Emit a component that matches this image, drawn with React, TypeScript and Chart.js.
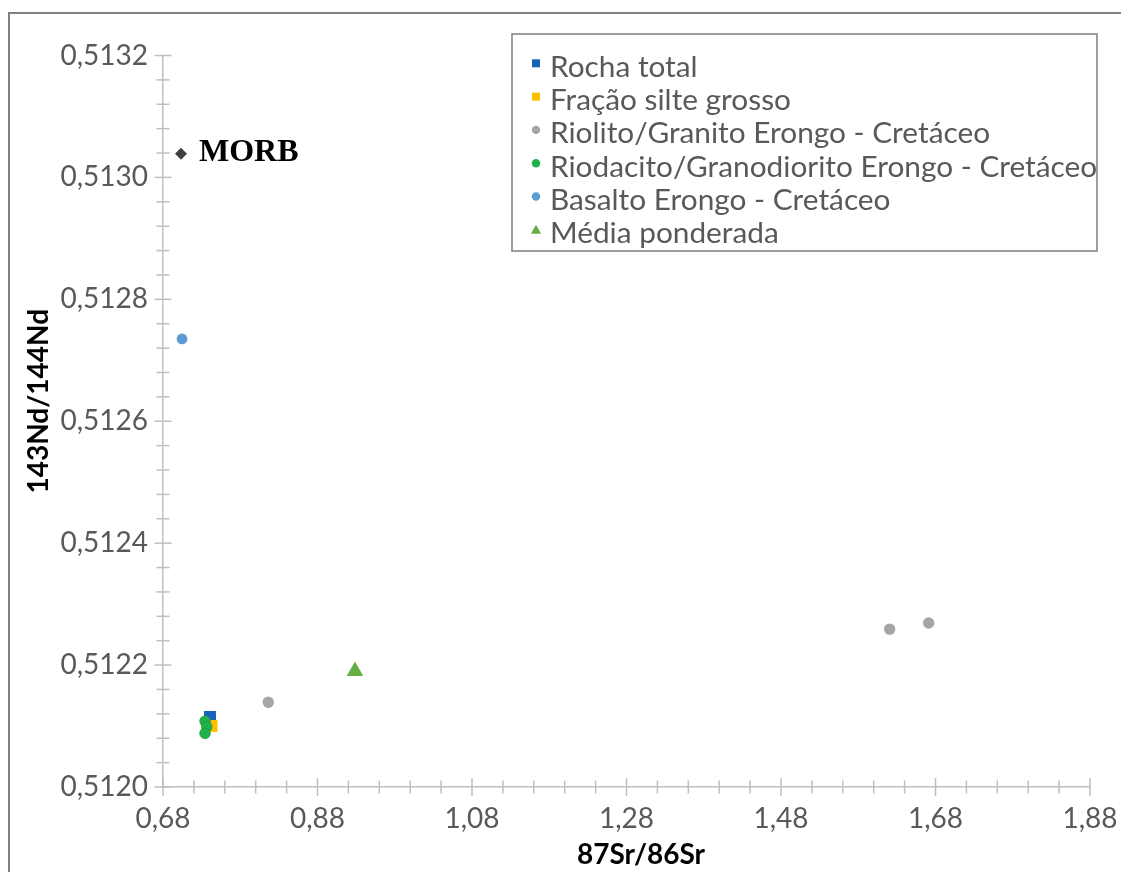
import React, { useEffect, useRef } from 'react';
import { Chart, registerables } from 'chart.js';

Chart.register(...registerables);

// ---- data ----
const X_TICKS = [0.68, 0.88, 1.08, 1.28, 1.48, 1.68, 1.88];
const Y_TICKS = [0.512, 0.5122, 0.5124, 0.5126, 0.5128, 0.513, 0.5132];

const X_TITLE = '87Sr/86Sr';
const Y_TITLE = '143Nd/144Nd';

const SERIES_LABELS = [
  'Rocha total',
  'Fração silte grosso',
  'Riolito/Granito Erongo - Cretáceo',
  'Riodacito/Granodiorito Erongo - Cretáceo',
  'Basalto Erongo - Cretáceo',
  'Média ponderada',
];

const rochaTotalX = [0.7408];
const rochaTotalY = [0.512115];
const fracaoSilteX = [0.7428];
const fracaoSilteY = [0.5121];
const riolitoX = [0.8163, 1.6207, 1.6712];
const riolitoY = [0.512139, 0.512259, 0.512269];
const riodacitoX = [0.7344, 0.7366, 0.7344];
const riodacitoY = [0.512108, 0.512099, 0.512088];
const basaltoX = [0.7046];
const basaltoY = [0.512735];
const mediaX = [0.9285];
const mediaY = [0.51219];
const morbX = [0.7033];
const morbY = [0.513039];
const MORB_LABEL = 'MORB';

// ---- styles ----
const TEXT_GRAY = '#595959';
const AXIS_GRAY = '#bfbfbf';
const FONT = 'Lato';

const pts = (xs: number[], ys: number[]) => xs.map((x, i) => ({ x, y: ys[i] }));

const decorPlugin = {
  id: 'decor',
  beforeDatasetsDraw(chart: any) {
    const ctx = chart.ctx;
    const xs = chart.scales.x;
    const ys = chart.scales.y;
    const ca = chart.chartArea;
    ctx.save();
    ctx.strokeStyle = AXIS_GRAY;
    ctx.lineWidth = 1.5;
    const line = (x1: number, y1: number, x2: number, y2: number) => {
      ctx.beginPath();
      ctx.moveTo(x1, y1);
      ctx.lineTo(x2, y2);
      ctx.stroke();
    };
    for (let i = 0; i < X_TICKS.length; i++) {
      const px = xs.getPixelForValue(X_TICKS[i]);
      line(px, ca.bottom - 9, px, ca.bottom + 9);
      if (i < X_TICKS.length - 1) {
        for (let k = 1; k < 5; k++) {
          const v = X_TICKS[i] + ((X_TICKS[i + 1] - X_TICKS[i]) * k) / 5;
          const p = xs.getPixelForValue(v);
          line(p, ca.bottom - 6.5, p, ca.bottom + 6.5);
        }
      }
    }
    for (let i = 0; i < Y_TICKS.length; i++) {
      const py = ys.getPixelForValue(Y_TICKS[i]);
      line(ca.left - 8.5, py, ca.left + 8.5, py);
      if (i < Y_TICKS.length - 1) {
        for (let k = 1; k < 5; k++) {
          const v = Y_TICKS[i] + ((Y_TICKS[i + 1] - Y_TICKS[i]) * k) / 5;
          const p = ys.getPixelForValue(v);
          line(ca.left - 6.5, p, ca.left + 6.5, p);
        }
      }
    }
    ctx.restore();
  },
  afterDatasetsDraw(chart: any) {
    const ctx = chart.ctx;
    const ca = chart.chartArea;
    ctx.save();
    // MORB label
    const morbIdx = chart.data.datasets.findIndex((d: any) => d.isMorb);
    const el = chart.getDatasetMeta(morbIdx).data[0];
    ctx.fillStyle = '#000000';
    ctx.font = 'bold 32px "Liberation Serif"';
    ctx.textAlign = 'left';
    ctx.textBaseline = 'alphabetic';
    ctx.fillText(MORB_LABEL, el.x + 18, el.y + 7.5);

    // axis titles
    ctx.font = `bold 28px ${FONT}`;
    ctx.textAlign = 'center';
    ctx.textBaseline = 'middle';
    ctx.fillText(X_TITLE, (ca.left + ca.right) / 2 + 14.5, 855);
    ctx.save();
    ctx.translate(39, (ca.top + ca.bottom) / 2 - 20);
    ctx.rotate(-Math.PI / 2);
    ctx.fillText(Y_TITLE, 0, 0);
    ctx.restore();

    // legend
    const lx = 512, ly = 34, lw = 585, lh = 217;
    ctx.fillStyle = '#ffffff';
    ctx.fillRect(lx, ly, lw, lh);
    ctx.strokeStyle = '#7f7f7f';
    ctx.lineWidth = 1.5;
    ctx.strokeRect(lx, ly, lw, lh);
    const legendSets = chart.data.datasets.filter((d: any) => !d.isMorb);
    legendSets.forEach((d: any, i: number) => {
      const cy = 63.3 + i * 33.3;
      const cx = 536;
      ctx.fillStyle = d.backgroundColor;
      if (d.pointStyle === 'rect') {
        ctx.fillRect(cx - 4, cy - 4, 8, 8);
      } else if (d.pointStyle === 'circle') {
        ctx.beginPath();
        ctx.arc(cx, cy, 4.2, 0, Math.PI * 2);
        ctx.fill();
      } else if (d.pointStyle === 'triangle') {
        ctx.beginPath();
        ctx.moveTo(cx, cy - 5);
        ctx.lineTo(cx + 5, cy + 4);
        ctx.lineTo(cx - 5, cy + 4);
        ctx.closePath();
        ctx.fill();
      }
      ctx.fillStyle = TEXT_GRAY;
      ctx.font = `29.8px ${FONT}`;
      ctx.textAlign = 'left';
      ctx.textBaseline = 'alphabetic';
      ctx.fillText(d.label, 550, cy + 13.5);
    });
    ctx.restore();
  },
};

export default function App() {
  const ref = useRef<HTMLCanvasElement | null>(null);

  useEffect(() => {
    if (!ref.current) return;
    const chart = new Chart(ref.current, {
      type: 'scatter',
      data: {
        datasets: [
          {
            label: SERIES_LABELS[0],
            data: pts(rochaTotalX, rochaTotalY),
            pointStyle: 'rect',
            pointRadius: 8.5,
            backgroundColor: '#1a62b8',
            borderWidth: 0,
            order: 6,
          },
          {
            label: SERIES_LABELS[1],
            data: pts(fracaoSilteX, fracaoSilteY),
            pointStyle: 'rect',
            pointRadius: 8.5,
            backgroundColor: '#ffc000',
            borderWidth: 0,
            order: 5,
          },
          {
            label: SERIES_LABELS[2],
            data: pts(riolitoX, riolitoY),
            pointStyle: 'circle',
            pointRadius: 5.7,
            backgroundColor: '#a5a5a5',
            borderWidth: 0,
            order: 4,
          },
          {
            label: SERIES_LABELS[3],
            data: pts(riodacitoX, riodacitoY),
            pointStyle: 'circle',
            pointRadius: 5.3,
            backgroundColor: '#22b14c',
            borderColor: '#1a9a3e',
            borderWidth: 0.8,
            order: 3,
          },
          {
            label: SERIES_LABELS[4],
            data: pts(basaltoX, basaltoY),
            pointStyle: 'circle',
            pointRadius: 5.4,
            backgroundColor: '#5b9bd5',
            borderWidth: 0,
            order: 2,
          },
          {
            label: SERIES_LABELS[5],
            data: pts(mediaX, mediaY),
            pointStyle: 'triangle',
            pointRadius: 9.6,
            backgroundColor: '#66ad44',
            borderWidth: 0,
            order: 1,
          },
          {
            label: MORB_LABEL,
            isMorb: true,
            data: pts(morbX, morbY),
            pointStyle: 'rectRot',
            pointRadius: 6,
            backgroundColor: '#404040',
            borderWidth: 0,
            order: 0,
          } as any,
        ],
      },
      options: {
        animation: false,
        responsive: false,
        devicePixelRatio: 1,
        layout: { padding: { top: 55.5, right: 31, bottom: 0, left: 0 } },
        plugins: {
          legend: { display: false },
          tooltip: { enabled: false },
        },
        scales: {
          x: {
            type: 'linear',
            min: X_TICKS[0],
            max: X_TICKS[X_TICKS.length - 1],
            afterBuildTicks: (s: any) => {
              s.ticks = X_TICKS.map((v) => ({ value: v }));
            },
            afterFit: (s: any) => {
              s.height = 85;
              s.paddingLeft = 0;
              s.paddingRight = 0;
            },
            ticks: {
              autoSkip: false,
              maxRotation: 0,
              padding: 15.5,
              color: TEXT_GRAY,
              font: { family: FONT, size: 28 },
              callback: (v: any) => Number(v).toFixed(2).replace('.', ','),
            },
            grid: { display: false, drawTicks: false },
            border: { display: true, color: AXIS_GRAY, width: 1.5 },
          },
          y: {
            type: 'linear',
            min: Y_TICKS[0],
            max: Y_TICKS[Y_TICKS.length - 1],
            afterBuildTicks: (s: any) => {
              s.ticks = Y_TICKS.map((v) => ({ value: v }));
            },
            afterFit: (s: any) => {
              s.width = 163;
              s.paddingTop = 0;
              s.paddingBottom = 0;
            },
            ticks: {
              autoSkip: false,
              padding: 15,
              color: TEXT_GRAY,
              font: { family: FONT, size: 28 },
              callback: (v: any) => Number(v).toFixed(4).replace('.', ','),
            },
            grid: { display: false, drawTicks: false },
            border: { display: true, color: AXIS_GRAY, width: 1.5 },
          },
        },
      } as any,
      plugins: [decorPlugin],
    });
    return () => chart.destroy();
  }, []);

  return (
    <div
      style={{
        position: 'fixed',
        left: 0,
        top: 0,
        width: 1121,
        height: 872,
        overflow: 'hidden',
        background: '#ffffff',
      }}
    >
      <div
        style={{
          position: 'absolute',
          left: 8,
          top: 12,
          width: 2000,
          height: 2000,
          border: '2px solid #808080',
        }}
      />
      <canvas
        ref={ref}
        width={1121}
        height={872}
        style={{ position: 'absolute', left: 0, top: 0, width: 1121, height: 872 }}
      />
    </div>
  );
}
